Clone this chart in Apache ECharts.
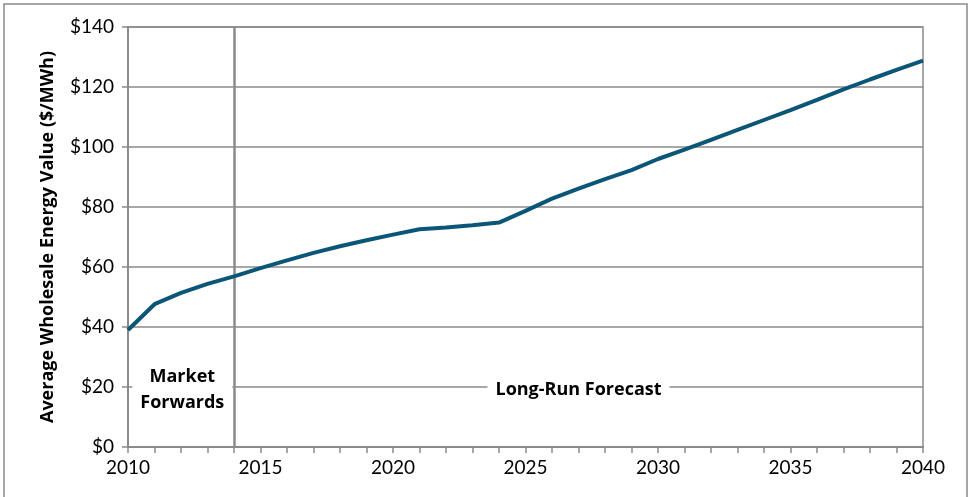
<!DOCTYPE html>
<html>
<head>
<meta charset="utf-8">
<script src="https://cdn.jsdelivr.net/npm/echarts@6/dist/echarts.min.js"></script>
<style>
html,body{margin:0;padding:0;background:#fff;}
#chart{width:969px;height:497px;}
</style>
</head>
<body>
<div id="chart"></div>
<script>
const years = [2010,2011,2012,2013,2014,2015,2016,2017,2018,2019,2020,2021,2022,2023,2024,2025,2026,2027,2028,2029,2030,2031,2032,2033,2034,2035,2036,2037,2038,2039,2040];
const values = [39.0,47.6,51.4,54.4,56.9,59.6,62.2,64.7,66.9,68.9,70.8,72.6,73.2,73.9,74.8,78.7,82.8,86.1,89.3,92.3,96.0,99.1,102.4,105.7,109.0,112.3,115.7,119.2,122.5,125.7,128.8];
const yAxisName = 'Average Wholesale Energy Value ($/MWh)';
const dividerYear = [2014];
const annotations = [
  {text: 'Market\nForwards', x: 2012.05, y: 19.1},
  {text: 'Long-Run Forecast', x: 2027.0, y: 19.0}
];

const FONT = 'Lato, "Open Sans", sans-serif';
const BOLDFONT = '"Open Sans", Lato, sans-serif';
const GRAY = '#8a8a8a';
const chart = echarts.init(document.getElementById('chart'), null, {renderer: 'canvas'});

const option = {
  animation: false,
  backgroundColor: '#fff',
  grid: {left: 128, right: 46, top: 27, bottom: 50, show: true, borderColor: GRAY, borderWidth: 1.5, backgroundColor: 'transparent'},
  xAxis: {
    type: 'value', min: 2010, max: 2040, interval: 5,
    axisLine: {show: true, lineStyle: {color: GRAY, width: 2}},
    axisTick: {show: true, inside: false, length: 6, lineStyle: {color: GRAY, width: 1.5}},
    minorTick: {show: true, splitNumber: 5, length: 6, lineStyle: {color: GRAY, width: 1.5}},
    splitLine: {show: false},
    axisLabel: {color: '#000', fontFamily: FONT, fontSize: 19, margin: 11, formatter: v => String(v)}
  },
  yAxis: {
    type: 'value', min: 0, max: 140, interval: 20,
    name: yAxisName, nameLocation: 'middle', nameGap: 71, nameRotate: 90,
    nameTextStyle: {color: '#000', fontFamily: BOLDFONT, fontSize: 18, fontWeight: 'bold'},
    axisLine: {show: true, lineStyle: {color: GRAY, width: 2}},
    axisTick: {show: true, inside: false, length: 6, lineStyle: {color: GRAY, width: 1.5}},
    splitLine: {show: true, lineStyle: {color: GRAY, width: 1.5}},
    axisLabel: {color: '#000', fontFamily: FONT, fontSize: 19, margin: 14, formatter: v => '$' + v}
  },
  series: [{
    type: 'line',
    data: years.map((y, i) => [y, values[i]]),
    showSymbol: false,
    lineStyle: {color: '#0b5677', width: 4},
    z: 5,
    markLine: {
      silent: true, symbol: 'none', label: {show: false},
      lineStyle: {color: GRAY, width: 2.5, type: 'solid'},
      data: dividerYear.map(x => ({xAxis: x}))
    }
  }]
};
chart.setOption(option);

const graphics = [{
  type: 'rect', shape: {x: 4, y: 4, width: 963, height: 520},
  style: {fill: 'none', stroke: GRAY, lineWidth: 1.5}, z: 0, silent: true
}];
annotations.forEach(a => {
  const p = chart.convertToPixel({gridIndex: 0}, [a.x, a.y]);
  graphics.push({
    type: 'text', x: p[0], y: p[1], z: 10,
    style: {
      text: a.text, fill: '#000', font: 'bold 18px ' + BOLDFONT,
      align: 'center', verticalAlign: 'middle', lineHeight: 26,
      backgroundColor: '#fff', padding: [2, 8]
    }
  });
});
chart.setOption({graphic: graphics});
</script>
</body>
</html>
